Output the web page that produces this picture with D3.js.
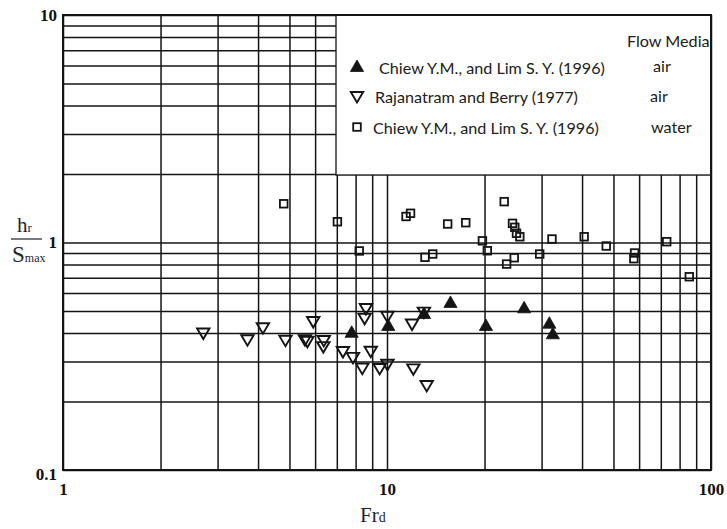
<!DOCTYPE html>
<html>
<head>
<meta charset="utf-8">
<script src="https://cdn.jsdelivr.net/npm/d3@7"></script>
<style>
  html, body { margin: 0; padding: 0; background: #fff; }
  svg { display: block; }
</style>
</head>
<body>
<svg id="chart" width="727" height="529"></svg>
<script>
// Axis tick labels
const xTickValues = [1, 10, 100];
const yTickValues = [0.1, 1, 10];

// Chiew Y.M. and Lim S.Y. (1996), air — filled triangles
const chiewAirFr = [7.78, 10.09, 13.01, 15.70, 20.2, 26.5, 31.7, 32.5];
const chiewAirH  = [0.405, 0.434, 0.490, 0.548, 0.434, 0.519, 0.444, 0.399];

// Rajanatram and Berry (1977), air — open triangles
const rajFr = [2.71, 3.71, 4.14, 4.86, 5.58, 5.68, 5.92, 6.38, 6.36, 7.31, 7.85, 8.39,
               8.61, 8.53, 8.91, 9.49, 10.03, 10.03, 11.95, 12.06, 13.26, 13.0];
const rajH  = [0.398, 0.372, 0.420, 0.370, 0.372, 0.366, 0.447, 0.369, 0.347, 0.330, 0.311, 0.279,
               0.510, 0.462, 0.331, 0.278, 0.290, 0.472, 0.436, 0.277, 0.234, 0.492];

// Chiew Y.M. and Lim S.Y. (1996), water — open squares
const chiewWaterFr = [4.80, 7.03, 8.21, 11.45, 11.82, 15.39, 17.5, 23.0, 24.4, 24.8, 25.1, 25.7,
                      19.7, 20.4, 13.1, 13.84, 23.4, 24.7, 29.6, 32.3, 40.6, 47.5, 58.1, 57.8, 73.0, 85.7];
const chiewWaterH  = [1.48, 1.234, 0.918, 1.301, 1.344, 1.206, 1.222, 1.512, 1.214, 1.166, 1.098, 1.06,
                      1.017, 0.920, 0.861, 0.890, 0.804, 0.857, 0.890, 1.036, 1.06, 0.965, 0.899, 0.849, 1.008, 0.707];

// Legend rows
const legendNames = ["Chiew Y.M., and Lim S. Y. (1996)", "Rajanatram and Berry (1977)", "Chiew Y.M., and Lim S. Y. (1996)"];
const legendMedia = ["air", "air", "water"];
const legendShapes = ["filled", "open", "square"];

const svg = d3.select("#chart");
const plotL = 63, plotR = 711, plotT = 15, plotB = 470;

const x = d3.scaleLog().domain([1, 100]).range([plotL, plotR]);
const y = d3.scaleLog().domain([0.1, 10]).range([plotB, plotT]);

const ink = "#141414";

// log grid
const grid = svg.append("g");
grid.append("g").attr("transform", `translate(0,${plotB})`)
  .call(d3.axisBottom(x).tickValues(x.ticks()).tickSize(-(plotB - plotT)).tickFormat(""));
grid.append("g").attr("transform", `translate(${plotL},0)`)
  .call(d3.axisLeft(y).tickValues(y.ticks()).tickSize(-(plotR - plotL)).tickFormat(""));
grid.selectAll(".domain").remove();
grid.selectAll(".tick line").attr("stroke", ink).attr("stroke-width", 1.5);

// legend box over the grid
const lg = svg.append("g");
const boxX0 = 336, boxY1 = 175;
lg.append("rect").attr("x", boxX0).attr("y", plotT).attr("width", plotR - boxX0).attr("height", boxY1 - plotT)
  .attr("fill", "#fff").attr("stroke", ink).attr("stroke-width", 1.3);

// plot frame
svg.append("rect").attr("x", plotL).attr("y", plotT).attr("width", plotR - plotL).attr("height", plotB - plotT)
  .attr("fill", "none").attr("stroke", ink).attr("stroke-width", 2);

// marker shapes, centred on their bounding box
const triUp = "M0,-6 L6.6,5.5 L-6.6,5.5 Z";
const triDown = "M-6.2,-5 L6.2,-5 L0,5.5 Z";

function drawShape(g, kind, cx, cy) {
  if (kind === "filled") {
    g.append("path").attr("d", triUp).attr("transform", `translate(${cx},${cy})`)
      .attr("fill", ink).attr("stroke", ink).attr("stroke-width", 0.8);
  } else if (kind === "open") {
    g.append("path").attr("d", triDown).attr("transform", `translate(${cx},${cy})`)
      .attr("fill", "none").attr("stroke", ink).attr("stroke-width", 1.9)
      .attr("stroke-linejoin", "miter");
  } else {
    g.append("rect").attr("x", cx - 3.8).attr("y", cy - 3.8).attr("width", 7.6).attr("height", 7.6)
      .attr("fill", "none").attr("stroke", ink).attr("stroke-width", 1.8);
  }
}

// data points
const pts = svg.append("g");
chiewWaterFr.forEach((f, i) => drawShape(pts, "square", x(f), y(chiewWaterH[i])));
rajFr.forEach((f, i) => drawShape(pts, "open", x(f), y(rajH[i])));
chiewAirFr.forEach((f, i) => drawShape(pts, "filled", x(f), y(chiewAirH[i])));

// legend content
const legendFont = "Lato, 'Open Sans', sans-serif";
const textColor = "#202020";
const rowMarkerY = [66, 97, 127];
const rowTextX = [379, 375, 373];
const rowBaseline = [74, 103, 134];
const mediaX = [653, 650, 651];
const mediaBaseline = [72, 102, 133];

lg.append("text").attr("x", 627).attr("y", 46.5).text("Flow Media")
  .attr("font-family", legendFont).attr("font-size", 16).attr("fill", textColor).attr("class", "lgtext");
legendNames.forEach((name, i) => {
  drawShape(lg, legendShapes[i], 357, rowMarkerY[i]);
  lg.append("text").attr("x", rowTextX[i]).attr("y", rowBaseline[i]).text(name)
    .attr("font-family", legendFont).attr("font-size", 16).attr("fill", textColor).attr("class", "lgtext");
  lg.append("text").attr("x", mediaX[i]).attr("y", mediaBaseline[i]).text(legendMedia[i])
    .attr("font-family", legendFont).attr("font-size", 16).attr("fill", textColor).attr("class", "lgtext");
});
// size the legend type so the first entry spans its row
const firstLen = lg.selectAll(".lgtext").filter((d, i) => i === 1).node().getComputedTextLength();
const lgSize = 16 * 226 / firstLen;
lg.selectAll(".lgtext").attr("font-size", lgSize);

// tick labels
const tickFont = "'Liberation Serif', 'Times New Roman', serif";
const xa = svg.append("g").attr("transform", `translate(0,${plotB})`)
  .call(d3.axisBottom(x).tickValues(xTickValues).tickFormat(d3.format("~g")).tickSize(0).tickPadding(13));
const ya = svg.append("g").attr("transform", `translate(${plotL},0)`)
  .call(d3.axisLeft(y).tickValues(yTickValues).tickFormat(d3.format("~g")).tickSize(0).tickPadding(6));
[xa, ya].forEach(a => {
  a.select(".domain").remove();
  a.selectAll("text").attr("font-family", tickFont).attr("font-weight", "bold")
    .attr("font-size", 17).attr("fill", "#111");
});
ya.selectAll(".tick").filter(d => d === 0.1).select("text").attr("dy", "0.55em");

// axis titles
const titleFont = "'Liberation Serif', 'Times New Roman', serif";
const titleColor = "#1e2433";
const xt = svg.append("text").attr("x", 360).attr("y", 522)
  .attr("font-family", titleFont).attr("fill", titleColor);
xt.append("tspan").attr("font-size", 21).text("Fr");
xt.append("tspan").attr("font-size", 14).text("d");

const yt1 = svg.append("text").attr("x", 17).attr("y", 232)
  .attr("font-family", titleFont).attr("fill", titleColor);
yt1.append("tspan").attr("font-size", 21).text("h");
yt1.append("tspan").attr("font-size", 13).text("r");
svg.append("line").attr("x1", 11).attr("x2", 42).attr("y1", 239).attr("y2", 239)
  .attr("stroke", titleColor).attr("stroke-width", 1.2);
const yt2 = svg.append("text").attr("x", 12).attr("y", 262)
  .attr("font-family", titleFont).attr("fill", titleColor);
yt2.append("tspan").attr("font-size", 23).text("S");
yt2.append("tspan").attr("font-size", 12).text("max");
</script>
</body>
</html>
